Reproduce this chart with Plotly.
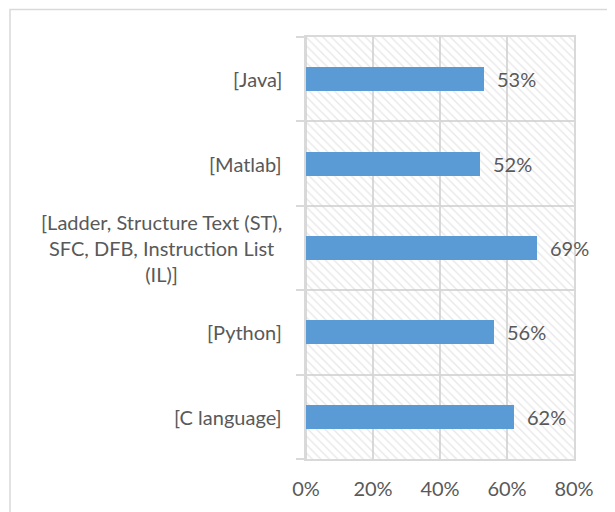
import plotly.graph_objects as go

# Data (bottom to top as drawn)
categories = ["C language", "Python", "Ladder", "Matlab", "Java"]
category_labels = [
    "[C language]",
    "[Python]",
    "[Ladder, Structure Text (ST),<br>SFC, DFB, Instruction List<br>(IL)]",
    "[Matlab]",
    "[Java]",
]
values = [0.62, 0.56, 0.69, 0.52, 0.53]
x_ticks = [0, 0.2, 0.4, 0.6, 0.8]
x_ticktext = ["0%", "20%", "40%", "60%", "80%"]

OFF = 8  # page body offset
W, H = 615, 512
L, R, T, B = 306 - OFF, W + OFF - 574, 37 - OFF, H + OFF - 459
pw, ph = W - L - R, H - T - B

FONT = "Lato, 'Open Sans', sans-serif"
FS = 20
TXT = "#595959"
GRID = "#D9D9D9"
BAR = "#5B9BD5"

fig = go.Figure()

# Hatched plot-area background (one band per category)
fig.add_trace(go.Bar(
    y=categories, x=[x_ticks[-1]] * len(categories), orientation="h",
    width=1, marker=dict(color="rgba(0,0,0,0)", line=dict(width=0),
                         pattern=dict(shape="\\", fgcolor="#CFCFCF", size=6, solidity=0.22)),
    hoverinfo="skip", showlegend=False,
))

fig.add_trace(go.Bar(
    y=categories, x=values, orientation="h", width=0.285,
    marker=dict(color=BAR, line=dict(width=0)), showlegend=False,
))

annotations = []
for c, v in zip(categories, values):
    annotations.append(dict(x=v, y=c, xref="x", yref="y", text=f"{v:.0%}",
                            showarrow=False, xanchor="left", xshift=11,
                            font=dict(family=FONT, size=FS, color=TXT)))
for c, lab in zip(categories, category_labels):
    annotations.append(dict(x=0, y=c, xref="paper", yref="y", text=lab,
                            showarrow=False, xanchor="right", align="center",
                            xshift=-22, font=dict(family=FONT, size=FS, color=TXT)))

# outer chart border (window px: left 10, top 9.5; extends past right/bottom)
bx0, by0 = 10 - OFF, 9.5 - OFF
shapes = [dict(type="rect", xref="paper", yref="paper",
               x0=(bx0 - L) / pw, x1=(W + 10 - L) / pw,
               y0=(H - B - (H + 10)) / ph, y1=(H - B - by0) / ph,
               line=dict(color=GRID, width=1.5), fillcolor="rgba(0,0,0,0)", layer="below")]

fig.update_layout(
    width=W, height=H, margin=dict(l=L, r=R, t=T, b=B, pad=0),
    paper_bgcolor="white", plot_bgcolor="white",
    barmode="overlay", bargap=0,
    annotations=annotations, shapes=shapes,
    xaxis=dict(range=[0, x_ticks[-1]], tickvals=x_ticks, ticktext=x_ticktext,
               showgrid=True, gridcolor=GRID, gridwidth=1.5,
               zeroline=True, zerolinecolor=GRID, zerolinewidth=1.5,
               showline=True, mirror=True, linecolor=GRID, linewidth=1.5,
               ticks="", ticklabelstandoff=11,
               tickfont=dict(family=FONT, size=FS, color=TXT), fixedrange=True),
    yaxis=dict(type="category", categoryorder="array", categoryarray=categories,
               range=[-0.5, len(categories) - 0.5],
               tickson="boundaries", ticks="outside", ticklen=8, tickcolor=GRID, tickwidth=1.5,
               showgrid=True, gridcolor=GRID, gridwidth=1.5,
               showline=True, mirror=True, linecolor=GRID, linewidth=1.5,
               showticklabels=False, fixedrange=True),
)

fig.write_html("out.html")
